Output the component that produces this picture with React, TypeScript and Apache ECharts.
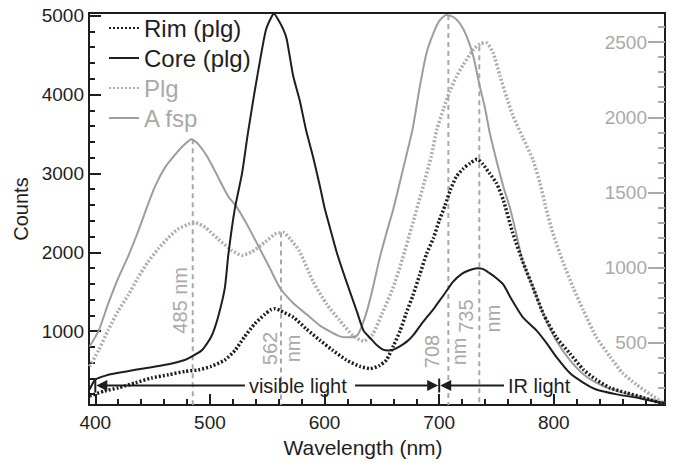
import React, { useEffect, useRef } from "react";
import * as echarts from "echarts";

const FONT = '"Liberation Sans", Arial, Helvetica, sans-serif';

// Tick values
const xMajor = [400, 500, 600, 700, 800];
const xMinor = [420, 440, 460, 480, 520, 540, 560, 580, 620, 640, 660, 680, 720, 740, 760, 780, 820, 840, 860, 880];
const leftMajor = [1000, 2000, 3000, 4000, 5000];
const leftMinor = [200, 400, 600, 800, 1200, 1400, 1600, 1800, 2200, 2400, 2600, 2800, 3200, 3400, 3600, 3800, 4200, 4400, 4600, 4800];
const rightMajor = [500, 1000, 1500, 2000, 2500];
const rightMinor = [100, 200, 300, 400, 600, 700, 800, 900, 1100, 1200, 1300, 1400, 1600, 1700, 1800, 1900, 2100, 2200, 2300, 2400, 2600];

// Series: [wavelength (nm), counts]
const rimCurve: [number, number][] = [
  [395, 178], [408, 240], [420, 281], [435, 344], [449, 406], [464, 447], [478, 489], [490, 509], [501, 552],
  [513, 634], [522, 758], [530, 925], [539, 1091], [548, 1215], [553, 1270], [557, 1285], [561, 1262],
  [573, 1174], [584, 1029], [596, 883], [607, 758], [619, 634], [631, 552], [640, 525], [648, 565], [654, 634],
  [660, 810], [666, 1007], [671, 1220], [677, 1450], [683, 1714], [689, 1980], [695, 2180], [700, 2400],
  [705, 2590], [710, 2800], [715, 2960], [721, 3060], [727, 3130], [733, 3180], [738, 3120], [744, 3000],
  [750, 2875], [756, 2660], [764, 2253], [773, 1879], [782, 1548], [791, 1215], [802, 925], [814, 717],
  [826, 509], [837, 385], [849, 281], [863, 219], [878, 157], [892, 95], [897, 85],
];
const coreCurve: [number, number][] = [
  [395, 260], [400, 385], [410, 440], [419, 468], [435, 509], [449, 543], [464, 580], [478, 634], [484, 677],
  [493, 758], [501, 925], [507, 1174], [513, 1548], [516, 1963], [519, 2295], [522, 2573], [528, 3000],
  [533, 3498], [539, 4039], [545, 4537], [549, 4827], [554, 4993], [556, 5025], [559.5, 4951], [564, 4827],
  [567, 4702], [572.5, 4245], [578.5, 3914], [584, 3540], [590, 3208], [596, 2834], [600, 2564], [605, 2295],
  [610.5, 2004], [619, 1630], [628, 1257], [634, 1007], [640, 910], [645, 830], [651, 765], [656, 755],
  [660, 765], [666, 810], [672, 870], [678, 960], [684, 1080], [690, 1190], [695, 1280], [700, 1380],
  [705, 1480], [712, 1625], [720, 1730], [727, 1775], [733, 1798], [738, 1790], [744, 1735], [750, 1670],
  [756, 1589], [764, 1381], [773, 1174], [785, 1007], [794, 842], [802, 676], [814, 468], [826, 344],
  [837, 260], [855, 198], [872, 157], [892, 95], [897, 85],
];
const plgCurve: [number, number][] = [
  [395, 341], [403, 450], [411, 580], [420, 711], [429, 820], [437, 929], [446, 1037], [455, 1125], [464, 1200],
  [472, 1255], [481, 1288], [487, 1298], [496, 1266], [507, 1190], [519, 1114], [528, 1081], [536, 1102],
  [548, 1168], [557, 1223], [564, 1233], [570, 1190], [578, 1110], [590, 907], [602, 754], [613, 650],
  [625, 545], [634, 510], [642, 555], [650, 690], [660, 870], [668, 1059], [676, 1270], [686, 1540],
  [693, 1740], [698, 1920], [704, 2060], [709, 2169], [715, 2270], [721, 2350], [730, 2452], [736, 2490],
  [741, 2495], [747, 2430], [753, 2277], [759, 2130], [764, 2016], [773, 1864], [782, 1712], [788, 1559],
  [793, 1400], [799, 1233], [808, 1037], [817, 864], [826, 711], [837, 537], [849, 407], [860, 298],
  [872, 221], [884, 156], [895, 102], [897, 96],
];
const aFspCurve: [number, number][] = [
  [395, 474], [403, 580], [411, 754], [420, 929], [429, 1081], [437, 1233], [445, 1400], [452, 1538],
  [461, 1668], [470, 1755], [478, 1820], [484, 1853], [490, 1820], [498, 1734], [507, 1603], [516, 1473],
  [523, 1407], [533, 1277], [545, 1102], [552, 1000], [561, 865], [573, 760], [584, 690], [596, 613],
  [607, 565], [614, 540], [620, 535], [628, 545], [632, 600], [637, 711], [642, 860], [648, 1059], [654, 1230],
  [660, 1390], [668, 1640], [677, 1929], [683, 2200], [689, 2430], [695, 2560], [700, 2640], [706, 2680],
  [712, 2669], [718, 2626], [724, 2538], [730, 2400], [735, 2220], [740, 2060], [744, 1900], [750, 1712],
  [756, 1538], [762, 1390], [767, 1233], [773, 1037], [782, 864], [791, 689], [802, 515], [814, 384],
  [828, 276], [843, 211], [860, 167], [878, 134], [895, 102], [897, 98],
];

// Peak markers: wavelength, top value (right axis)
const peakWavelengths = [485, 562, 708, 735];
const peakTops = [1853, 1233, 2680, 2473];

// Rotated peak labels: text, wavelength of line, height (left-axis counts), pixel offset
const peakLabelTexts = ["485 nm", "562", "nm", "708", "nm", "735", "nm"];
const peakLabelWl = [485, 562, 562, 708, 708, 735, 735];
const peakLabelCounts = [1390, 780, 780, 742, 742, 1190, 1160];
const peakLabelDx = [-13, -11.5, 12, -16, 10.5, -13, 14];

// Light-range arrows
const arrowLevel = 310;
const visibleText = "visible light";
const irText = "IR light";

const X_MIN = 394.5, X_MAX = 897;
const L_MIN = 62, L_MAX = 5034;
const R_MIN = 84, R_MAX = 2694;

const BLACK = "#1e1e1e";
const GREY_DOT = "#adadad";
const GREY_SOLID = "#9d9d9d";
const GREY_TXT = "#a9a9a9";

export default function App() {
  const ref = useRef<HTMLDivElement>(null);
  useEffect(() => {
    const chart = echarts.init(ref.current!, null, { renderer: "svg" });
    const label = { fontFamily: FONT, fontSize: 19, formatter: (v: number) => String(v) };
    const option: any = {
      animation: false,
      backgroundColor: "#fff",
      grid: { left: 89, right: 10, top: 13, bottom: 50, show: true, borderColor: BLACK, borderWidth: 2 },
      legend: {
        orient: "vertical", left: 103, top: 11, itemWidth: 30, itemHeight: 14, itemGap: 6,
        selectedMode: false,
        itemStyle: { opacity: 0, color: "transparent", borderWidth: 0 },
        textStyle: { fontSize: 24, fontFamily: FONT, lineHeight: 23 },
        data: [
          { name: "Rim (plg)", textStyle: { color: BLACK } },
          { name: "Core (plg)", textStyle: { color: BLACK } },
          { name: "Plg", textStyle: { color: GREY_TXT } },
          { name: "A fsp", textStyle: { color: GREY_TXT } },
        ],
      },
      xAxis: [
        {
          type: "value", min: X_MIN, max: X_MAX, position: "bottom",
          axisLine: { show: true, onZero: false, lineStyle: { color: BLACK, width: 2 } },
          axisTick: { show: true, inside: true, length: 11, customValues: xMajor, lineStyle: { color: BLACK, width: 2 } },
          axisLabel: { customValues: xMajor, margin: 8, color: BLACK, ...label },
          splitLine: { show: false },
          name: "Wavelength (nm)", nameLocation: "middle", nameGap: 20,
          nameTextStyle: { fontSize: 21, color: BLACK, fontFamily: FONT, padding: [0, 28, 0, 0] },
        },
        {
          type: "value", min: X_MIN, max: X_MAX, position: "bottom",
          axisLine: { show: false, onZero: false },
          axisTick: { show: true, inside: true, length: 6, customValues: xMinor, lineStyle: { color: BLACK, width: 2 } },
          axisLabel: { show: false }, splitLine: { show: false },
        },
      ],
      yAxis: [
        {
          type: "value", min: L_MIN, max: L_MAX, position: "left",
          axisLine: { show: true, onZero: false, lineStyle: { color: BLACK, width: 2 } },
          axisTick: { show: true, inside: true, length: 12, customValues: leftMajor, lineStyle: { color: BLACK, width: 2 } },
          axisLabel: { customValues: leftMajor, margin: 5, color: BLACK, ...label },
          splitLine: { show: false },
          name: "Counts", nameLocation: "middle", nameGap: 52,
          nameTextStyle: { fontSize: 20, color: BLACK, fontFamily: FONT },
        },
        {
          type: "value", min: R_MIN, max: R_MAX, position: "right",
          axisLine: { show: true, onZero: false, lineStyle: { color: BLACK, width: 2 } },
          axisTick: { show: true, inside: true, length: 17, customValues: rightMajor, lineStyle: { color: GREY_TXT, width: 2 } },
          axisLabel: { inside: true, customValues: rightMajor, margin: 18, color: GREY_TXT, ...label },
          splitLine: { show: false },
        },
        {
          type: "value", min: L_MIN, max: L_MAX, position: "left",
          axisLine: { show: false, onZero: false },
          axisTick: { show: true, inside: true, length: 6, customValues: leftMinor, lineStyle: { color: BLACK, width: 2 } },
          axisLabel: { show: false }, splitLine: { show: false },
        },
        {
          type: "value", min: R_MIN, max: R_MAX, position: "right",
          axisLine: { show: false, onZero: false },
          axisTick: { show: true, inside: true, length: 7, customValues: rightMinor, lineStyle: { color: GREY_TXT, width: 2 } },
          axisLabel: { show: false }, splitLine: { show: false },
        },
      ],
      series: [
        ...peakWavelengths.map((w, i) => ({
          name: "peak" + w, type: "line", xAxisIndex: 0, yAxisIndex: 1, silent: true, z: 1,
          symbol: "none", data: [[w, peakTops[i]], [w, R_MIN]],
          lineStyle: { color: GREY_TXT, width: 2, type: [5, 4] },
        })),
        {
          name: "Plg", type: "line", xAxisIndex: 0, yAxisIndex: 1, data: plgCurve, symbol: "none", smooth: 0.2, z: 2,
          lineStyle: { color: GREY_DOT, width: 3.5, type: [2, 2] }, itemStyle: { color: GREY_DOT },
        },
        {
          name: "A fsp", type: "line", xAxisIndex: 1, yAxisIndex: 3, data: aFspCurve, symbol: "none", smooth: 0.2, z: 2,
          lineStyle: { color: GREY_SOLID, width: 2 }, itemStyle: { color: GREY_SOLID },
        },
        {
          name: "Rim (plg)", type: "line", xAxisIndex: 1, yAxisIndex: 2, data: rimCurve, symbol: "none", smooth: 0.2, z: 3,
          lineStyle: { color: BLACK, width: 3.5, type: [2, 2] }, itemStyle: { color: BLACK },
        },
        {
          name: "Core (plg)", type: "line", xAxisIndex: 0, yAxisIndex: 0, data: coreCurve, symbol: "none", smooth: 0.2, z: 3,
          lineStyle: { color: BLACK, width: 2 }, itemStyle: { color: BLACK },
        },
      ],
    };
    chart.setOption(option);

    const px = (w: number, v: number) => chart.convertToPixel({ xAxisIndex: 0, yAxisIndex: 0 }, [w, v]) as number[];
    const y = px(400, arrowLevel)[1];
    const x400 = px(400, arrowLevel)[0];
    const x700 = px(700, arrowLevel)[0];
    const xVisStart = px(534, arrowLevel)[0];
    const xVisEnd = px(624, arrowLevel)[0];
    const xIrStart = px(760, arrowLevel)[0];
    const stroke = { stroke: BLACK, lineWidth: 2 };
    const txt = (text: string, x: number, yy: number, color: string, rot = 0, align = "left") => ({
      type: "text", x, y: yy, rotation: rot, z: 10,
      style: {
        text, fill: color, fontSize: 20, fontFamily: FONT,
        align, textAlign: align, verticalAlign: "middle", textVerticalAlign: "middle",
      },
    });
    const graphics: any[] = [
      { type: "line", z: 10, shape: { x1: x400, y1: y - 7, x2: x400, y2: y + 7 }, style: stroke },
      { type: "polygon", z: 10, shape: { points: [[x400 + 1, y], [x400 + 12, y - 5.5], [x400 + 12, y + 5.5]] }, style: { fill: BLACK } },
      { type: "line", z: 10, shape: { x1: x400 + 8, y1: y, x2: xVisStart - 4, y2: y }, style: stroke },
      txt(visibleText, xVisStart, y, BLACK),
      { type: "line", z: 10, shape: { x1: xVisEnd + 3, y1: y, x2: x700 - 8, y2: y }, style: stroke },
      { type: "polygon", z: 10, shape: { points: [[x700 - 1, y], [x700 - 12, y - 5.5], [x700 - 12, y + 5.5]] }, style: { fill: BLACK } },
      { type: "line", z: 10, shape: { x1: x700, y1: y - 7, x2: x700, y2: y + 7 }, style: stroke },
      { type: "polygon", z: 10, shape: { points: [[x700 + 1, y], [x700 + 12, y - 5.5], [x700 + 12, y + 5.5]] }, style: { fill: BLACK } },
      { type: "line", z: 10, shape: { x1: x700 + 8, y1: y, x2: xIrStart - 4, y2: y }, style: stroke },
      txt(irText, xIrStart, y, BLACK),
      ...peakLabelTexts.map((t, i) => {
        const p = px(peakLabelWl[i], peakLabelCounts[i]);
        return txt(t, p[0] + peakLabelDx[i], p[1], GREY_TXT, Math.PI / 2, "center");
      }),
    ];
    chart.setOption({ graphic: graphics });
    return () => chart.dispose();
  }, []);
  return <div ref={ref} style={{ position: "fixed", left: 0, top: 0, width: 675, height: 463 }} />;
}
